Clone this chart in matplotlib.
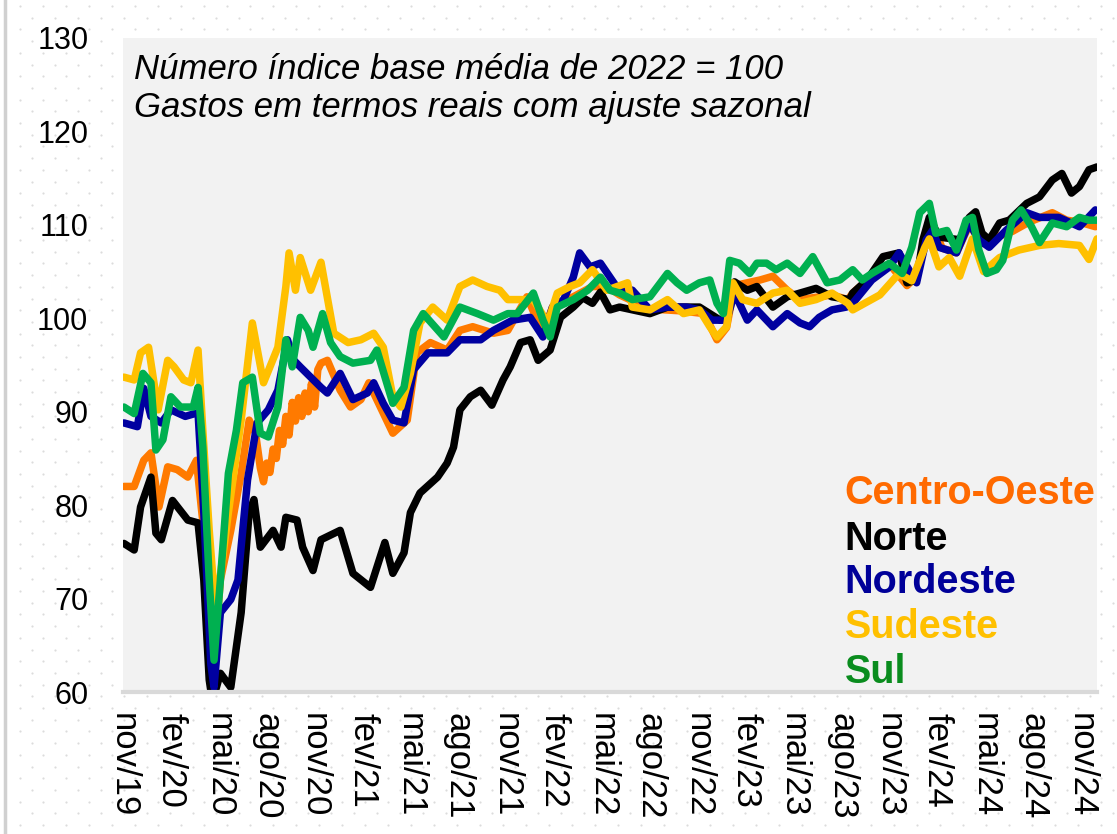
import matplotlib
matplotlib.use("Agg")
import matplotlib.pyplot as plt
import numpy as np

plt.rcParams['font.family'] = ['Liberation Sans', 'DejaVu Sans']

# months since nov/2019
tick_pos = list(range(0, 61, 3))
tick_labels = ["nov/19", "fev/20", "mai/20", "ago/20", "nov/20", "fev/21", "mai/21",
               "ago/21", "nov/21", "fev/22", "mai/22", "ago/22", "nov/22", "fev/23",
               "mai/23", "ago/23", "nov/23", "fev/24", "mai/24", "ago/24", "nov/24"]
yticks = [60, 70, 80, 90, 100, 110, 120, 130]

co_x = [0.06, 0.7, 1.3, 1.75, 2.25, 2.8, 3.4, 4.06, 4.6, 4.9, 5.4, 5.8, 6.1, 6.75, 7.4, 7.9, 8.3,
        8.6, 8.8, 9.0, 9.2, 9.4, 9.6, 9.8, 10.0, 10.2, 10.4, 10.6, 10.8, 11.0, 11.2, 11.4, 11.6,
        11.8, 12.0, 12.2, 12.4, 12.8, 13.6, 14.25, 14.9, 15.4, 15.7, 16.9, 17.8,
        18.4, 19.25, 20.3, 21.1, 21.9, 23.2, 24.1, 25.3, 26.3, 26.9, 28.2, 29.4, 30.3, 31.1,
        33.0, 34.9, 36.4, 37.2, 37.8, 38.3, 39.9, 40.7, 41.6, 42.4, 44.4, 45.4, 45.7, 46.9,
        48.0, 49.1, 49.7, 50.2, 50.7, 51.3, 52.2, 53.0, 53.8, 54.7, 55.7, 56.75, 58.2, 59.1,
        59.9, 60.9]
co_y = [82, 82, 84.8, 85.6, 79.8, 84.1, 83.8, 83, 84.8, 79.8, 72, 65.6, 72, 77.3, 83.4, 89.1, 87.7,
        84, 82.5, 84.5, 83.5, 86, 85, 88, 86.5, 89.5, 87.5, 91, 89, 91.5, 89.5, 92, 90,
        93, 90.5, 94.5, 95.2, 95.5, 92.3, 90.5, 91.3, 93.1, 92, 87.7, 89.1,
        96.3, 97.4, 96.6, 98.7, 99.1, 98.4, 98.7, 102.3, 98.4, 101.2, 102.3, 103.4, 103.4, 102.5,
        101, 100.8, 100.5, 97.7, 99, 103.5, 104.1, 104.5, 103, 102, 102.5, 102, 102.7, 104.5,
        105.8, 103.5, 104.5, 108.5, 110.2, 107.5, 107, 110, 108, 108.7, 109.3, 110.3, 111.3, 110.5,
        110.3, 109.8]

no_x = [0.06, 0.7, 1.1, 1.75, 2.06, 2.4, 3.1, 4.06, 4.7, 5.06, 5.4, 5.6, 6.1, 6.75, 7.4, 7.9, 8.2,
        8.6, 9.4, 9.9, 10.2, 10.9, 11.25, 11.9, 12.4, 13.6, 14.4, 15.5, 16.4, 16.9, 17.6, 18.0,
        18.6, 19.7, 20.3, 20.7, 21.1, 21.75, 22.4, 23.1, 23.8, 24.25, 24.9, 25.5, 26.0, 26.75,
        27.4, 28.2, 28.8, 29.4, 29.9, 30.5, 31.1, 33.0, 34.1, 36.1, 36.75, 37.4, 37.8, 38.3,
        39.1, 39.7, 40.7, 41.6, 42.4, 43.4, 44.4, 45.5, 45.7, 46.6, 47.6, 48.6, 49.1, 49.7,
        50.1, 50.5, 51.1, 52.4, 53.0, 53.4, 53.8, 54.25, 54.9, 55.5, 56.6, 57.4, 58.2, 58.8,
        59.4, 59.9, 60.5, 61.0]
no_y = [75.9, 75.2, 79.8, 83.0, 77.0, 76.3, 80.5, 78.4, 78.1, 72, 61.3, 59, 62, 60.5, 68.5, 79.2, 80.6,
        75.5, 77.3, 75.5, 78.7, 78.4, 75.5, 73, 76.3, 77.3, 72.7, 71.2, 76, 72.7, 74.9, 79.2,
        81.3, 83, 84.5, 86.2, 90.2, 91.6, 92.3, 90.7, 93.4, 94.8, 97.4, 97.7, 95.5, 96.6,
        100.1, 101.2, 102.2, 101.6, 102.8, 100.9, 101.2, 100.5, 101.2, 101.2, 100.5, 99.8, 100.1, 103.9,
        103, 103.4, 101.2, 102.3, 102.7, 103.2, 102.3, 102, 102.7, 104.1, 106.6, 107, 103.8, 104.1,
        108.4, 110.8, 108.7, 108.4, 110.8, 111.4, 109.1, 108.4, 110.2, 110.5, 112.3, 113, 114.8, 115.5,
        113.4, 114.1, 115.9, 116.2]

ne_x = [0.06, 0.9, 1.3, 1.75, 2.4, 3.0, 3.9, 4.7, 5.06, 5.5, 5.7, 6.1, 6.75, 7.2, 7.8, 8.4, 9.1,
        9.7, 10.3, 10.7, 11.1, 11.75, 12.4, 12.8, 13.6, 14.4, 15.3, 15.7, 16.3, 16.9, 17.6, 18.2,
        19.1, 20.3, 21.1, 22.4, 23.2, 24.4, 25.5, 26.3, 26.9, 27.6, 28.2, 28.6, 29.25, 29.9,
        30.5, 30.9, 31.9, 33.0, 34.1, 35.3, 36.1, 36.9, 37.8, 38.3, 39.1, 39.7, 40.7, 41.6,
        42.4, 43.0, 43.6, 44.4, 45.3, 45.7, 46.9, 48.0, 48.6, 49.7, 50.3, 50.7, 51.1, 52.2,
        53.0, 53.6, 54.25, 55.3, 56.6, 57.4, 58.6, 59.9, 60.9]
ne_y = [88.8, 88.4, 92.5, 89.5, 88.8, 90.2, 89.5, 89.9, 79.2, 63, 60.5, 68.5, 69.9, 72, 82.7, 88.8, 90.2,
        92.3, 97.7, 95.5, 94.8, 93.7, 92.6, 92, 94.1, 91.3, 92, 93.1, 90.9, 89.1, 88.8, 94.5,
        96.3, 96.3, 97.7, 97.7, 98.7, 99.8, 100.1, 98, 101.2, 102, 104.4, 107, 105.5, 105.9,
        104.4, 103.4, 103, 100.9, 101.2, 101.2, 100.9, 99.8, 99.8, 102.7, 99.8, 100.9, 99.1, 100.5,
        99.5, 99.1, 100.1, 100.9, 101.2, 101.6, 104.1, 105.5, 107, 103.8, 108.4, 109.4, 107.6, 107,
        110.2, 108.4, 107.6, 109.4, 111.3, 110.8, 110.8, 109.8, 111.6]

se_x = [0.06, 0.7, 1.1, 1.6, 2.2, 2.8, 3.2, 3.8, 4.25, 4.7, 5.0, 5.4, 5.8, 6.6, 7.4, 8.1, 8.8,
        9.7, 10.2, 10.4, 10.8, 11.1, 11.75, 12.4, 13.2, 14.1, 14.9, 15.7, 16.3, 16.9, 17.4, 18.0,
        18.6, 19.4, 20.3, 21.1, 21.9, 22.8, 23.6, 24.1, 25.7, 26.6, 27.2, 28.0, 28.6, 29.4,
        30.3, 31.6, 31.9, 33.0, 34.1, 35.1, 36.1, 36.75, 37.2, 37.8, 38.2, 38.8, 39.7, 40.7,
        41.6, 42.4, 43.4, 44.4, 45.4, 45.7, 47.4, 48.6, 49.4, 50.2, 50.5, 51.1, 51.75, 52.4,
        53.2, 53.9, 54.9, 56.1, 57.4, 58.6, 59.9, 60.5, 61.0]
se_y = [93.7, 93.4, 96.3, 96.9, 90.2, 95.5, 94.8, 93.4, 93.1, 96.6, 88, 77.3, 68.5, 79.2, 89.1, 99.5, 93.1,
        96.9, 103.4, 107, 103, 106.5, 103, 106, 98.4, 97.4, 97.7, 98.4, 96.9, 91.6, 90.5, 94.1,
        99.5, 101.2, 99.8, 103.4, 104.1, 103.4, 103, 102, 102, 99.5, 102.7, 103.4, 103.8, 105.2,
        103, 103.8, 101.2, 100.9, 102, 100.5, 100.9, 99.1, 98, 99.1, 103.8, 102, 101.6, 102.7,
        103, 101.6, 102, 102.7, 101.6, 100.9, 102.5, 104.8, 104.0, 107.5, 108.5, 105.5, 106.5, 104.5,
        108.5, 105, 106.5, 107.3, 107.8, 108, 107.8, 106.3, 108.5]

su_x = [0.06, 0.7, 1.25, 1.75, 2.06, 2.5, 3.0, 3.6, 4.4, 4.7, 5.0, 5.4, 5.7, 6.1, 6.6, 7.1, 7.5,
        8.1, 8.6, 9.1, 9.7, 10.2, 10.6, 11.1, 11.6, 11.9, 12.5, 13.0, 13.6, 14.4, 15.5, 15.9,
        16.9, 17.6, 18.2, 18.8, 20.1, 21.1, 22.2, 23.2, 24.1, 24.7, 25.7, 26.3, 26.75, 27.2,
        28.2, 29.1, 29.9, 30.5, 31.1, 31.9, 33.0, 34.1, 34.7, 35.3, 36.1, 36.75, 37.2, 37.6,
        38.0, 38.6, 39.25, 39.7, 40.3, 40.9, 41.6, 42.4, 43.2, 44.1, 44.9, 45.7, 46.3, 46.9,
        48.0, 48.8, 49.4, 49.9, 50.5, 50.9, 51.6, 52.2, 52.8, 53.2, 53.6, 54.1, 54.7, 55.1,
        55.7, 56.25, 56.9, 57.4, 58.2, 59.1, 59.9, 60.5, 61.0]
su_y = [90.5, 89.8, 94.1, 93.1, 85.9, 87, 91.6, 90.5, 90.5, 92.6, 86.2, 72, 63.4, 72, 83.4, 88, 93.1,
        93.7, 87.7, 87.3, 90.5, 97.7, 94.8, 100.1, 98.7, 96.9, 100.5, 97.4, 95.9, 95.2, 95.5, 96.6,
        90.9, 92.6, 98.7, 100.5, 98, 101.2, 100.5, 99.8, 100.5, 100.5, 102.7, 99.8, 98, 101.2,
        102, 103, 104.4, 103, 102.7, 102, 102.3, 104.8, 103.8, 103, 103.8, 104.1, 101.6, 100.5,
        106.2, 105.9, 104.8, 105.9, 105.9, 105.2, 105.9, 104.8, 106.6, 103.8, 104.1, 105.2, 104.1, 104.8,
        105.9, 104.8, 107.6, 111.3, 112.3, 109.1, 109.4, 107.3, 110.5, 110.8, 107.3, 104.8, 105.2, 106.2,
        110.5, 111.6, 109.8, 108.1, 110.2, 109.8, 110.8, 110.5, 110.5]

series = [
    ("Centro-Oeste", co_x, co_y, "#FF7A00", "#FF6A00"),
    ("Norte", no_x, no_y, "#000000", "#000000"),
    ("Nordeste", ne_x, ne_y, "#0000A0", "#000099"),
    ("Sudeste", se_x, se_y, "#FFC000", "#FFC000"),
    ("Sul", su_x, su_y, "#00B050", "#0A8C1E"),
]

W, H = 1117, 834
fig = plt.figure(figsize=(W / 100, H / 100), dpi=100)
fig.patch.set_facecolor("white")

# decorative dot background
bg = fig.add_axes([0, 0, 1, 1], zorder=-5)
bg.set_xlim(0, W); bg.set_ylim(H, 0); bg.axis("off")
gx, gy = [], []
for r, yy in enumerate(np.arange(6, H, 11.7)):
    off = 0 if r % 2 == 0 else 11.5
    for xx in np.arange(20 + off, W, 23):
        gx.append(xx); gy.append(yy)
bg.scatter(gx, gy, s=2.5, color="#dcdcdc", linewidths=0)
bg.plot([5, 5], [0, H], color="#d0d0d0", lw=2.5)

L, R, T, B = 123, 1097, 38, 692
ax = fig.add_axes([L / W, 1 - B / H, (R - L) / W, (B - T) / H])
ax.set_facecolor("#f2f2f2")
for name, x, y, lc, tc in series:
    ax.plot(x, y, color=lc, lw=5.4, solid_joinstyle="round", solid_capstyle="round")

ax.set_xlim(0, 61)
ax.set_ylim(60, 130)
ax.set_yticks(yticks)
ax.set_yticklabels([str(v) for v in yticks], fontsize=22)
ax.set_xticks(tick_pos)
ax.set_xticklabels(tick_labels, rotation=-90, fontsize=25, va="top", ha="center")
ax.tick_params(axis="y", length=0, pad=25)
ax.tick_params(axis="x", length=0, pad=15)
for s in ["top", "right", "left"]:
    ax.spines[s].set_visible(False)
ax.spines["bottom"].set_color("#d9d9d9")
ax.spines["bottom"].set_linewidth(3)

ax.text(0.011, 0.952, "Número índice base média de 2022 = 100", transform=ax.transAxes,
        fontsize=25, style="italic", va="center", ha="left")
ax.text(0.011, 0.894, "Gastos em termos reais com ajuste sazonal", transform=ax.transAxes,
        fontsize=25, style="italic", va="center", ha="left")

ys = [0.304, 0.234, 0.168, 0.099, 0.031]
for (name, x, y, lc, tc), yy in zip(series, ys):
    ax.text(0.741, yy, name, transform=ax.transAxes, fontsize=28.5, fontweight="bold",
            color=tc, va="center", ha="left")

fig.savefig("out.png", dpi=100)
